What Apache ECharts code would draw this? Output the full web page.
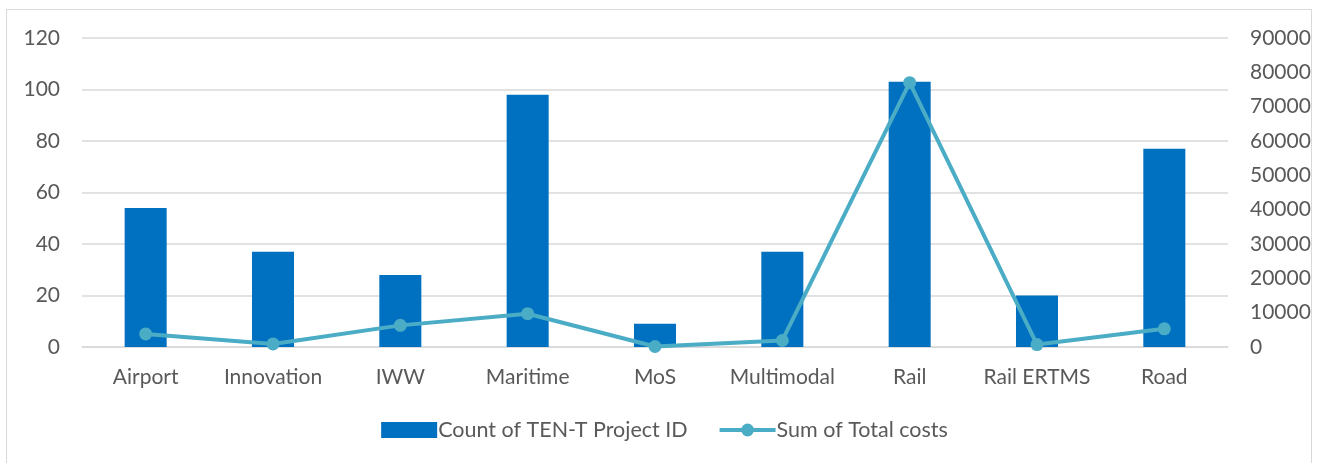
<!DOCTYPE html>
<html>
<head>
<meta charset="utf-8">
<script src="https://cdn.jsdelivr.net/npm/echarts@6/dist/echarts.min.js"></script>
<style>
  html, body { margin: 0; padding: 0; background: #fff; }
  #frame { position: absolute; left: 6px; top: 9px; width: 1306px; height: 470px; border: 1px solid #d9d9d9; box-sizing: border-box; }
  #chart { position: absolute; left: 0; top: 0; width: 1329px; height: 463px; }
</style>
</head>
<body>
<div id="frame"></div>
<div id="chart"></div>
<script>
const categories = ['Airport', 'Innovation', 'IWW', 'Maritime', 'MoS', 'Multimodal', 'Rail', 'Rail ERTMS', 'Road']
const projectCounts = [54, 37, 28, 98, 9, 37, 103, 20, 77]
const totalCosts = [3800, 900, 6300, 9700, 150, 1900, 77000, 700, 5300]
const countTicks = { min: 0, max: 120, interval: 20 }
const costTicks = { min: 0, max: 90000, interval: 10000 }

const chart = echarts.init(document.getElementById('chart'))
const labelStyle = { color: '#595959', fontSize: 21, fontFamily: 'Lato' }

chart.setOption({
  animation: false,
  grid: { left: 82, right: 101, top: 38, bottom: 116, containLabel: false },
  legend: {
    bottom: 17,
    left: 'center',
    itemGap: 30,
    itemWidth: 56,
    itemHeight: 16,
    textStyle: { color: '#595959', fontSize: 21.5, fontFamily: 'Lato', padding: [0, 0, 0, -4] },
    data: [
      { name: 'Count of TEN-T Project ID', icon: 'rect' },
      { name: 'Sum of Total costs', lineStyle: { width: 4 }, itemStyle: { color: '#4BACC6' } }
    ]
  },
  xAxis: {
    type: 'category',
    data: categories,
    axisTick: { show: false },
    axisLine: { lineStyle: { color: '#d9d9d9', width: 1.5 } },
    axisLabel: { ...labelStyle, margin: 20, interval: 0 }
  },
  yAxis: [
    {
      type: 'value',
      ...countTicks,
      axisLine: { show: false },
      axisTick: { show: false },
      splitLine: { lineStyle: { color: '#d9d9d9', width: 1.5 } },
      axisLabel: { ...labelStyle, margin: 22 }
    },
    {
      type: 'value',
      ...costTicks,
      axisLine: { show: false },
      axisTick: { show: false },
      splitLine: { show: false },
      axisLabel: { ...labelStyle, align: 'left', margin: 22, formatter: v => String(v) }
    }
  ],
  series: [
    {
      name: 'Count of TEN-T Project ID',
      type: 'bar',
      data: projectCounts,
      barWidth: '33%',
      itemStyle: { color: '#0070C0' }
    },
    {
      name: 'Sum of Total costs',
      type: 'line',
      yAxisIndex: 1,
      data: totalCosts,
      symbol: 'circle',
      symbolSize: 13,
      lineStyle: { color: '#4BACC6', width: 4 },
      itemStyle: { color: '#4BACC6' }
    }
  ]
})

window.addEventListener('resize', () => chart.resize())
</script>
</body>
</html>
